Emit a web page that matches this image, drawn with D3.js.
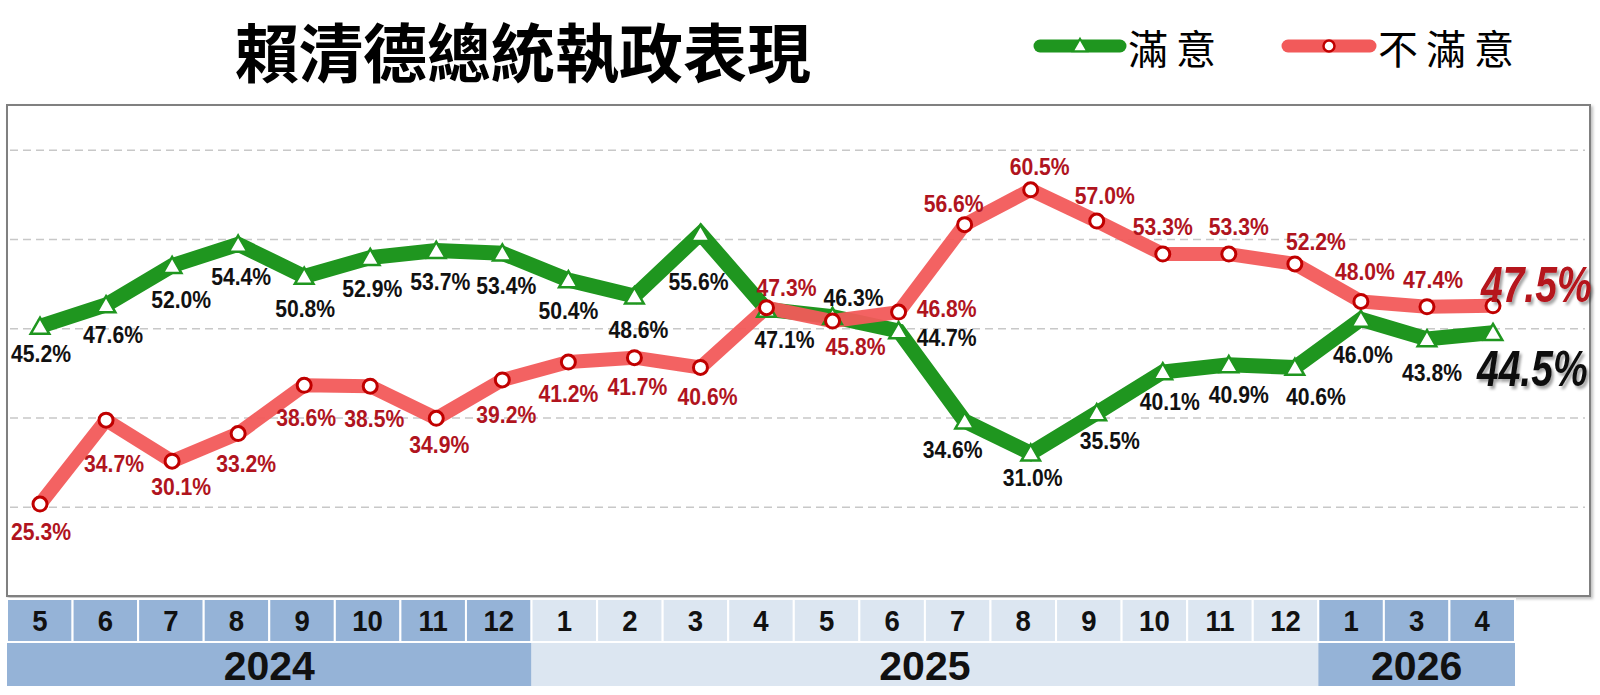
<!DOCTYPE html>
<html>
<head>
<meta charset="utf-8">
<script src="https://cdn.jsdelivr.net/npm/d3@7"></script>
<style>
html, body { margin: 0; padding: 0; background: #fff; }
svg { display: block; }
</style>
</head>
<body>
<script>
var title = "賴清德總統執政表現";
var seriesNames = ["滿意", "不滿意"];

// months in the table, and the year each one belongs to
var months = ["5","6","7","8","9","10","11","12","1","2","3","4","5","6","7","8","9","10","11","12","1","3","4"];
var monthYear = ["2024","2024","2024","2024","2024","2024","2024","2024",
                 "2025","2025","2025","2025","2025","2025","2025","2025","2025","2025","2025","2025",
                 "2026","2026","2026"];

var satisfied    = [45.2,47.6,52.0,54.4,50.8,52.9,53.7,53.4,50.4,48.6,55.6,47.1,46.3,44.7,34.6,31.0,35.5,40.1,40.9,40.6,46.0,43.8,44.5];
var dissatisfied = [25.3,34.7,30.1,33.2,38.6,38.5,34.9,39.2,41.2,41.7,40.6,47.3,45.8,46.8,56.6,60.5,57.0,53.3,53.3,52.2,48.0,47.4,47.5];

var gridTicks = [25, 35, 45, 55, 65];

// label nudges from the point (dx, dy of text centre), layout only
var satOff = [[1,27],[7,30],[9,34],[3,32],[1,32],[2,31],[4,31],[4,32],[0,31],[4,33],[-2,48],[18,30],
              [21,-19],[48,7],[-12,28],[2,24],[13,28],[7,30],[10,30],[21,29],[2,35],[5,34],[0,0]];
var disOff = [[1,27],[8,43],[9,25],[8,30],[2,32],[4,32],[3,26],[4,35],[0,31],[3,29],[7,29],[20,-20],
              [23,25],[48,-4],[-11,-21],[9,-23],[8,-26],[0,-28],[10,-28],[21,-22],[4,-30],[6,-27],[0,0]];

var W = 1600, H = 695;
var green = "#1f961f", red = "#f25a5a", darkRed = "#b0141e";
var darkBlue = "#95b3d7", lightBlue = "#dce6f1";
var numFont = "'Liberation Sans', Arial, sans-serif";
var cjkFont = "'Noto Sans CJK TC', 'Noto Sans CJK SC', sans-serif";

var svg = d3.select("body").append("svg")
    .attr("width", W)
    .attr("height", H);

var defs = svg.append("defs");
var sh = defs.append("filter").attr("id", "shadow").attr("x", "-20%").attr("y", "-20%").attr("width", "140%").attr("height", "160%");
sh.append("feDropShadow").attr("dx", 3).attr("dy", 3).attr("stdDeviation", 1.5).attr("flood-color", "#000").attr("flood-opacity", 0.35);
var fsh = defs.append("filter").attr("id", "frameShadow").attr("x", "-2%").attr("y", "-2%").attr("width", "104%").attr("height", "104%");
fsh.append("feDropShadow").attr("dx", 2).attr("dy", 2).attr("stdDeviation", 1.5).attr("flood-color", "#000").attr("flood-opacity", 0.25);

var x = d3.scalePoint().domain(d3.range(months.length)).range([40, 1493]);
var y = d3.scaleLinear().domain([15, 70]).range([596, 105]);
var band = d3.scaleBand().domain(d3.range(months.length)).range([7, 1515]);

// title
svg.append("text")
    .attr("x", 523).attr("y", 77)
    .attr("text-anchor", "middle")
    .style("font-family", cjkFont).style("font-weight", 700).style("font-size", "64px")
    .style("fill", "#000")
    .text(title);

// legend
function legendItem(x0, x1, col, name, isTri) {
    var g = svg.append("g");
    g.append("line").attr("x1", x0).attr("x2", x1).attr("y1", 46).attr("y2", 46)
        .style("stroke", col).style("stroke-width", 13).style("stroke-linecap", "round");
    if (isTri) {
        g.append("path").attr("d", d3.symbol(d3.symbolTriangle, 90)())
            .attr("transform", "translate(" + (x0 + x1) / 2 + ",47)")
            .style("fill", "#fff").style("stroke", col).style("stroke-width", 2);
    } else {
        g.append("circle").attr("cx", (x0 + x1) / 2).attr("cy", 46).attr("r", 5.5)
            .style("fill", "#fff").style("stroke", "#c00000").style("stroke-width", 2.5);
    }
    g.append("text").attr("x", x1 + 8).attr("y", 64)
        .style("font-family", cjkFont).style("font-size", "40px").style("letter-spacing", "8px")
        .style("fill", "#000")
        .text(name);
}
legendItem(1040, 1120, green, seriesNames[0], true);
legendItem(1288, 1370, red, seriesNames[1], false);

// plot frame
svg.append("rect")
    .attr("x", 7).attr("y", 105).attr("width", 1583).attr("height", 491)
    .style("fill", "#fff").style("stroke", "#808080").style("stroke-width", 2)
    .attr("filter", "url(#frameShadow)");

// dashed grid
var grid = svg.append("g").attr("transform", "translate(10,0)")
    .call(d3.axisLeft(y).tickValues(gridTicks).tickSize(-1575).tickFormat(""));
grid.select(".domain").remove();
grid.selectAll(".tick line")
    .style("stroke", "#c8c8c8").style("stroke-width", 1.5).style("stroke-dasharray", "8,5");

// lines
var line = d3.line().x(function(d, i) { return x(i); }).y(function(d) { return y(d); });

svg.append("path").datum(satisfied).attr("d", line)
    .style("fill", "none").style("stroke", green).style("stroke-width", 15)
    .style("stroke-linejoin", "miter");
svg.append("path").datum(dissatisfied).attr("d", line)
    .style("fill", "none").style("stroke", red).style("stroke-width", 14)
    .style("stroke-linejoin", "round").style("opacity", 0.95);

// markers
svg.selectAll("path.tri").data(satisfied).enter().append("path")
    .attr("class", "tri")
    .attr("d", d3.symbol(d3.symbolTriangle, 150)())
    .attr("transform", function(d, i) { return "translate(" + x(i) + "," + (y(d) + 2) + ")"; })
    .style("fill", "#fff").style("stroke", green).style("stroke-width", 2.5);

svg.selectAll("circle.dot").data(dissatisfied).enter().append("circle")
    .attr("class", "dot")
    .attr("cx", function(d, i) { return x(i); })
    .attr("cy", y)
    .attr("r", 7)
    .style("fill", "#fff").style("stroke", "#c00000").style("stroke-width", 3);

// value labels (the last one of each series is drawn large)
var last = months.length - 1;
function labels(data, off, col) {
    svg.append("g").selectAll("text")
        .data(data.slice(0, last)).enter().append("text")
        .attr("transform", function(d, i) {
            return "translate(" + (x(i) + off[i][0]) + "," + (y(d) + off[i][1] + 8.5) + ") scale(0.9,1)";
        })
        .attr("text-anchor", "middle")
        .style("font-family", numFont).style("font-weight", "bold").style("font-size", "23.5px")
        .style("fill", col)
        .text(function(d) { return d.toFixed(1) + "%"; });
}
labels(satisfied, satOff, "#111");
labels(dissatisfied, disOff, darkRed);

function bigLabel(v, dx, dy, col) {
    svg.append("text")
        .attr("transform", "translate(" + (x(last) + dx) + "," + (y(v) + dy) + ") scale(0.78,1)")
        .style("font-family", numFont).style("font-weight", "bold").style("font-size", "50px")
        .style("font-style", "italic")
        .style("fill", col)
        .attr("filter", "url(#shadow)")
        .text(v.toFixed(1) + "%");
}
bigLabel(dissatisfied[last], -12, -4, "#b5121b");
bigLabel(satisfied[last], -16, 53, "#111");

// month / year table
var yearGroups = d3.groups(d3.range(months.length), function(i) { return monthYear[i]; });
var yearShade = {};
yearGroups.forEach(function(g, k) { yearShade[g[0]] = k % 2 === 0 ? darkBlue : lightBlue; });

var cells = svg.append("g").selectAll("g").data(months).enter().append("g");
cells.append("rect")
    .attr("x", function(d, i) { return band(i); })
    .attr("y", 599)
    .attr("width", band.bandwidth())
    .attr("height", 43)
    .style("fill", function(d, i) { return yearShade[monthYear[i]]; })
    .style("stroke", "#fff").style("stroke-width", 2);
cells.append("text")
    .attr("transform", function(d, i) { return "translate(" + (band(i) + band.bandwidth() / 2) + ",631) scale(0.95,1)"; })
    .attr("text-anchor", "middle")
    .style("font-family", numFont).style("font-weight", "bold").style("font-size", "29px")
    .style("fill", "#111")
    .text(String);

var yr = svg.append("g").selectAll("g").data(yearGroups).enter().append("g");
yr.append("rect")
    .attr("x", function(g) { return band(g[1][0]); })
    .attr("y", 643)
    .attr("width", function(g) { return band(g[1][g[1].length - 1]) + band.bandwidth() - band(g[1][0]); })
    .attr("height", 43)
    .style("fill", function(g) { return yearShade[g[0]]; });
yr.append("text")
    .attr("x", function(g) { return (band(g[1][0]) + band(g[1][g[1].length - 1]) + band.bandwidth()) / 2; })
    .attr("y", 680)
    .attr("text-anchor", "middle")
    .style("font-family", numFont).style("font-weight", "bold").style("font-size", "41px")
    .style("fill", "#111")
    .text(function(g) { return g[0]; });
</script>
</body>
</html>
